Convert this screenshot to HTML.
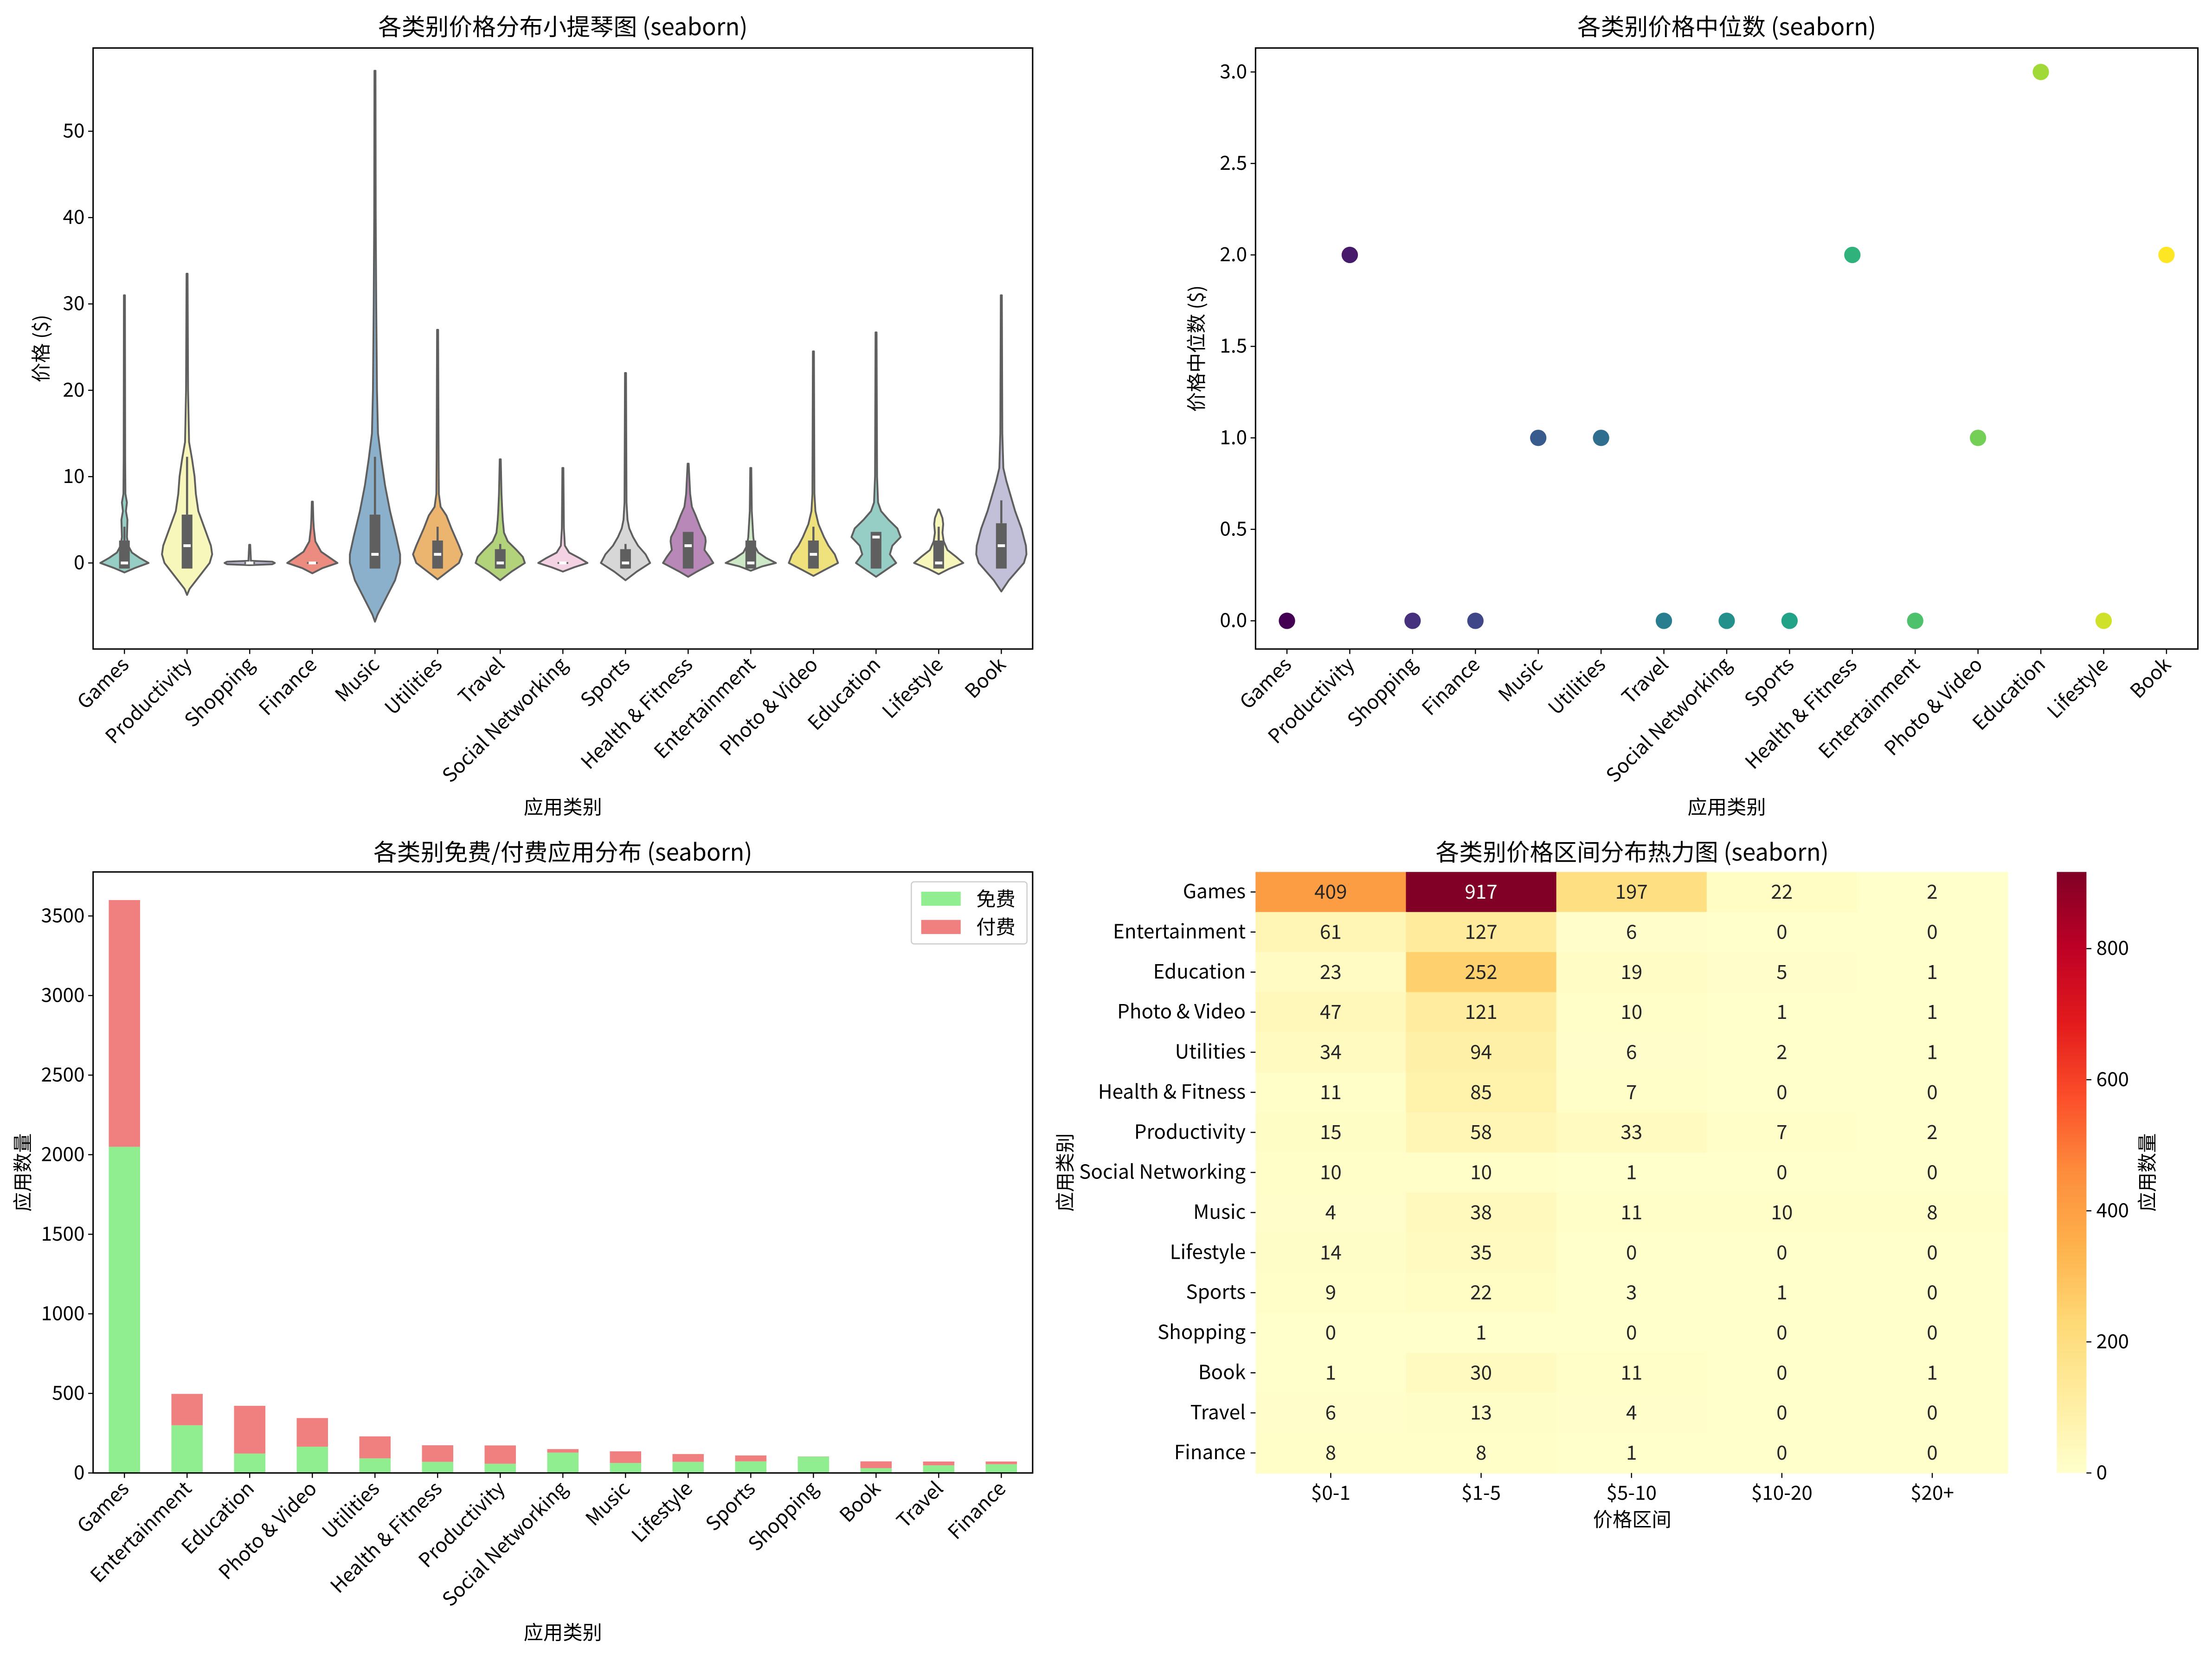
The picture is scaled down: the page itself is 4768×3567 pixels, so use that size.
<!DOCTYPE html>
<html><head><meta charset="utf-8">
<style>
html,body{margin:0;padding:0;background:#fff;}
svg{display:block;}
text{font-family:"WenQuanYi Zen Hei","Noto Sans CJK SC",sans-serif;fill:#000;}
</style></head>
<body>
<svg id="fig" width="4768" height="3567" viewBox="0 0 1568 1173" xmlns="http://www.w3.org/2000/svg">
<rect width="1568" height="1173" fill="#fff"/>
<g id="g1"></g>
<g id="g2"></g>
<g id="g3"></g>
<g id="g4"></g>
</svg>
<script>
// ---------- data ----------
const violinCats = ["Games","Productivity","Shopping","Finance","Music","Utilities","Travel","Social Networking","Sports","Health & Fitness","Entertainment","Photo & Video","Education","Lifestyle","Book"];
const violinColors = ["#96cdc4","#f7f7bb","#bbb8d2","#ec8b7f","#8ab0cc","#ebb56f","#b2d37a","#f5d2e3","#d7d7d7","#b888b9","#cde8c7","#efe27c","#96cdc4","#f7f7bb","#c2bfd8"];
const violinProfiles = [
 [[-1.1,0],[-0.6,0.4],[0,0.96],[0.6,0.6],[1.2,0.3],[2,0.15],[3,0.1],[5,0.12],[6,0.06],[7,0.1],[8,0.04],[12,0.03],[31,0.02]],
 [[-3.7,0],[-3,0.1],[-1.5,0.5],[0,0.9],[1,1.0],[2,0.95],[4,0.7],[6,0.45],[8,0.35],[10,0.3],[12,0.2],[14,0.08],[20,0.04],[33.5,0.02]],
 [[-0.25,0],[-0.15,0.9],[0,1.0],[0.15,0.9],[0.25,0.05],[2.1,0.02]],
 [[-1.2,0],[-0.6,0.4],[0,1.0],[0.6,0.7],[1.3,0.35],[2.5,0.12],[4,0.06],[5,0.04],[7.1,0.02]],
 [[-6.8,0],[-6,0.1],[-4,0.45],[-2,0.8],[0,1.0],[1,1.0],[3,0.85],[6,0.6],[9,0.4],[12,0.25],[15,0.12],[20,0.08],[30,0.05],[40,0.03],[57,0.02]],
 [[-1.9,0],[-1,0.4],[0,0.85],[1,0.98],[2,0.85],[4,0.55],[5.5,0.35],[6.5,0.12],[8,0.05],[12,0.04],[27,0.02]],
 [[-2,0],[-1,0.45],[0,0.98],[0.7,0.9],[1.5,0.65],[2.5,0.3],[3.5,0.15],[5,0.1],[6,0.08],[8,0.05],[12,0.02]],
 [[-1,0],[-0.5,0.45],[0,0.98],[0.5,0.7],[1.2,0.25],[2,0.08],[3,0.06],[4,0.04],[11,0.02]],
 [[-2,0],[-1,0.45],[0,0.98],[1,0.8],[2,0.5],[3,0.3],[4,0.15],[5,0.08],[7,0.04],[22,0.02]],
 [[-1.6,0],[-1,0.35],[0,1.0],[0.7,0.85],[1.5,0.65],[2.5,0.7],[3,0.68],[4,0.5],[5.5,0.3],[6.5,0.15],[8,0.08],[11.5,0.02]],
 [[-0.9,0],[-0.4,0.45],[0,1.0],[0.6,0.6],[1.2,0.3],[2,0.15],[3,0.1],[4,0.08],[6,0.04],[11,0.02]],
 [[-1.5,0],[-0.8,0.45],[0,0.98],[1,0.85],[2,0.6],[3,0.42],[4.5,0.2],[6,0.08],[8,0.04],[24.5,0.02]],
 [[-1.6,0],[-1,0.3],[0,0.8],[1,0.55],[2,0.65],[3,0.98],[4,0.85],[5,0.5],[6,0.2],[7,0.08],[10,0.04],[26.7,0.02]],
 [[-1.3,0],[-0.7,0.4],[0,0.98],[0.7,0.7],[1.5,0.35],[2.5,0.2],[3.5,0.15],[4.5,0.18],[5.2,0.15],[6.2,0.02]],
 [[-3.3,0],[-2,0.3],[0,0.9],[1,1.0],[2,0.98],[4,0.8],[6,0.55],[8,0.35],[9.5,0.2],[11,0.08],[15,0.04],[31,0.02]]
];
const boxLow = [-0.65,-0.65,-0.1,-0.1,-0.65,-0.65,-0.65,-0.1,-0.65,-0.65,-0.65,-0.65,-0.65,-0.65,-0.65];
const boxHigh = [2.6,5.6,0.1,0.1,5.6,2.6,1.6,0.1,1.6,3.6,2.6,2.6,3.6,2.6,4.6];
const whiskerTop = [4.2,12.3,0.1,0.1,12.3,4.2,2.2,0.1,2.2,3.6,2.6,4.2,3.6,4.2,7.25];
const medians = [0,2,0,0,1,1,0,0,0,2,0,1,3,0,2];
const violinTicks = [0,10,20,30,40,50];

const medianCats = violinCats;
const medianValues = [0,2,0,0,1,1,0,0,0,2,0,1,3,0,2];
const medianTicks = [0,0.5,1,1.5,2,2.5,3];
const medianTickLabels = ["0.0","0.5","1.0","1.5","2.0","2.5","3.0"];

const barCats = ["Games","Entertainment","Education","Photo & Video","Utilities","Health & Fitness","Productivity","Social Networking","Music","Lifestyle","Sports","Shopping","Book","Travel","Finance"];
const freeCounts = [2050,300,122,165,92,70,58,128,63,70,73,103,30,48,55];
const paidCounts = [1550,197,300,180,138,104,115,22,73,49,37,1,43,24,17];
const barTicks = [0,500,1000,1500,2000,2500,3000,3500];

const heatRows = ["Games","Entertainment","Education","Photo & Video","Utilities","Health & Fitness","Productivity","Social Networking","Music","Lifestyle","Sports","Shopping","Book","Travel","Finance"];
const heatCols = ["$0-1","$1-5","$5-10","$10-20","$20+"];
const heatValues = [
 [409,917,197,22,2],[61,127,6,0,0],[23,252,19,5,1],[47,121,10,1,1],[34,94,6,2,1],
 [11,85,7,0,0],[15,58,33,7,2],[10,10,1,0,0],[4,38,11,10,8],[14,35,0,0,0],
 [9,22,3,1,0],[0,1,0,0,0],[1,30,11,0,1],[6,13,4,0,0],[8,8,1,0,0]];
const cbarTicks = [0,200,400,600,800];

// ---------- helpers ----------
const NS="http://www.w3.org/2000/svg";
function mk(tag, attrs, parent, txt){
  const e=document.createElementNS(NS,tag);
  for(const k in attrs) e.setAttribute(k,attrs[k]);
  if(txt!==undefined) e.textContent=txt;
  parent.appendChild(e); return e;
}
function hex2rgb(h){return [parseInt(h.substr(1,2),16),parseInt(h.substr(3,2),16),parseInt(h.substr(5,2),16)];}
function interp(stops,t){
  t=Math.max(0,Math.min(1,t)); const n=stops.length-1; const i=Math.min(n-1,Math.floor(t*n)); const f=t*n-i;
  const a=hex2rgb(stops[i]),b=hex2rgb(stops[i+1]);
  return "rgb("+a.map((v,k)=>Math.round(v+(b[k]-v)*f)).join(",")+")";
}
const VIRIDIS=["#440154","#482878","#3e4989","#31688e","#26828e","#1f9e89","#35b779","#6ece58","#b5de2b","#fde725"];
const YLORRD=["#ffffcc","#ffeda0","#fed976","#feb24c","#fd8d3c","#fc4e2a","#e31a1c","#bd0026","#800026"];

function frame(g,x0,y0,x1,y1){
  const r=mk('rect',{x:x0,y:y0,width:x1-x0,height:y1-y0,fill:'none',stroke:'#000','stroke-width':1},g);
  
  
}
function title(g,x,y,s){
  const t=mk('text',{x:x,y:y,'font-size':16.7,'text-anchor':'middle'},g,s);
  
  
}
function xlabel(g,x,y,s){
  const t=mk('text',{x:x,y:y,'font-size':13.9,'text-anchor':'middle'},g,s);
  
  
}
function ylabel(g,x,y,s,name){
  const t=mk('text',{x:x,y:y,'font-size':13.9,'text-anchor':'middle',transform:'rotate(-90 '+x+' '+y+')'},g,s);
  
  
}
function yticks(g,xAxis,ticks,labels,yf){
  ticks.forEach((v,i)=>{
    const y=yf(v);
    mk('line',{x1:xAxis-3.5,x2:xAxis,y1:y,y2:y,stroke:'#000','stroke-width':0.8},g);
    const t=mk('text',{x:xAxis-6,y:y+4.5,'font-size':13.9,'text-anchor':'end'},g,labels[i]);
    
    
  });
}
function xticksRot(g,yAxis,cats,xf){
  cats.forEach((c,i)=>{
    const x=xf(i);
    mk('line',{x1:x,x2:x,y1:yAxis,y2:yAxis+3.5,stroke:'#000','stroke-width':0.8},g);
    const tx=x+4, ty=yAxis+12;
    const t=mk('text',{x:tx,y:ty,'font-size':13.9,'text-anchor':'end',transform:'rotate(-45 '+tx+' '+ty+')'},g,c);
    
    
  });
}

// ---------- chart 1: violins ----------
(function(){
  const g=document.getElementById('g1');
  const X0=66,X1=732,Y0=34,Y1=460;
  const step=(X1-X0)/violinCats.length;
  const xf=i=>X0+step*(i+0.5);
  const yf=v=>399-v*6.12;
  const W=17.8;
  title(g,399,25,"各类别价格分布小提琴图 (seaborn)");
  violinCats.forEach((c,i)=>{
    const cx=xf(i), p=violinProfiles[i];
    const right=p.map(q=>[cx+q[1]*W,yf(q[0])]);
    const left=p.slice().reverse().map(q=>[cx-q[1]*W,yf(q[0])]);
    const pts=right.concat(left).map(q=>q[0].toFixed(2)+","+q[1].toFixed(2)).join(" ");
    const v=mk('polygon',{points:pts,fill:violinColors[i],stroke:'#5f5f5f','stroke-width':1.3,'stroke-linejoin':'round'},g);
    
    
    mk('line',{x1:cx,x2:cx,y1:yf(boxHigh[i]),y2:yf(whiskerTop[i]),stroke:'#5f5f5f','stroke-width':1.5},g);
    const b=mk('rect',{x:cx-3.8,y:yf(boxHigh[i]),width:7.6,height:yf(boxLow[i])-yf(boxHigh[i]),fill:'#5f5f5f'},g);
    
    
    const m=mk('rect',{x:cx-2.6,y:yf(medians[i])-1,width:5.2,height:2,fill:'#fff'},g);
    
    
  });
  frame(g,X0,Y0,X1,Y1);
  yticks(g,X0,violinTicks,violinTicks.map(String),yf);
  xticksRot(g,Y1,violinCats,xf);
  xlabel(g,399,577,"应用类别");
  ylabel(g,34,247,"价格 ($)");
})();

// ---------- chart 2: medians ----------
(function(){
  const g=document.getElementById('g2');
  const X0=890,X1=1558,Y0=34,Y1=460;
  const step=(X1-X0)/medianCats.length;
  const xf=i=>X0+step*(i+0.5);
  const yf=v=>440-v*129.67;
  title(g,1224,25,"各类别价格中位数 (seaborn)");
  frame(g,X0,Y0,X1,Y1);
  medianValues.forEach((v,i)=>{
    const c=mk('circle',{cx:xf(i),cy:yf(v),r:5.8,fill:interp(VIRIDIS,i/(medianCats.length-1))},g);
    
    
  });
  yticks(g,X0,medianTicks,medianTickLabels,yf);
  xticksRot(g,Y1,medianCats,xf);
  xlabel(g,1224,577,"应用类别");
  ylabel(g,853,247,"价格中位数 ($)");
})();

// ---------- chart 3: stacked bars ----------
(function(){
  const g=document.getElementById('g3');
  const X0=66,X1=732,Y0=618,Y1=1044;
  const step=(X1-X0)/barCats.length;
  const xf=i=>X0+step*(i+0.5);
  const yf=v=>1044-v*0.1128;
  title(g,399,610,"各类别免费/付费应用分布 (seaborn)");
  barCats.forEach((c,i)=>{
    const bw=step*0.5, x=xf(i)-bw/2;
    const f=mk('rect',{x:x,y:yf(freeCounts[i]),width:bw,height:yf(0)-yf(freeCounts[i]),fill:'#90ee90'},g);
    
    
    const tot=freeCounts[i]+paidCounts[i];
    const p=mk('rect',{x:x,y:yf(tot),width:bw,height:yf(freeCounts[i])-yf(tot),fill:'#f08080'},g);
    
    
  });
  frame(g,X0,Y0,X1,Y1);
  yticks(g,X0,barTicks,barTicks.map(String),yf);
  xticksRot(g,Y1,barCats,xf);
  xlabel(g,399,1162,"应用类别");
  ylabel(g,21,831,"应用数量");
  const lg=mk('g',{},g);
  
  
  mk('rect',{x:646,y:625,width:82,height:44,rx:2,fill:'#fff',stroke:'#ccc','stroke-width':0.8},lg);
  mk('rect',{x:653,y:632,width:28,height:10,fill:'#90ee90'},lg);
  mk('rect',{x:653,y:652,width:28,height:10,fill:'#f08080'},lg);
  const t1=mk('text',{x:692,y:642,'font-size':13.9},lg,"免费");
  
  
  const t2=mk('text',{x:692,y:662,'font-size':13.9},lg,"付费");
  
  
})();

// ---------- chart 4: heatmap ----------
(function(){
  const g=document.getElementById('g4');
  const X0=890,X1=1423,Y0=618,Y1=1044;
  const cw=(X1-X0)/heatCols.length, rh=(Y1-Y0)/heatRows.length;
  const vmax=917;
  title(g,1157,610,"各类别价格区间分布热力图 (seaborn)");
  heatRows.forEach((r,i)=>{
    heatCols.forEach((c,j)=>{
      const v=heatValues[i][j];
      const cell=mk('rect',{x:X0+j*cw,y:Y0+i*rh,width:cw+0.5,height:rh+0.5,fill:interp(YLORRD,v/vmax)},g);
      
      
      const t=mk('text',{x:X0+(j+0.5)*cw,y:Y0+(i+0.5)*rh+4.8,'font-size':13.9,'text-anchor':'middle',style:'fill:'+(v>600?'#fff':'#262626')},g,String(v));
      
      
    });
    const y=Y0+(i+0.5)*rh;
    mk('line',{x1:X0-3.5,x2:X0,y1:y,y2:y,stroke:'#000','stroke-width':0.8},g);
    const t=mk('text',{x:X0-7,y:y+4.5,'font-size':13.9,'text-anchor':'end'},g,r);
    
    
  });
  heatCols.forEach((c,j)=>{
    const x=X0+(j+0.5)*cw;
    mk('line',{x1:x,x2:x,y1:Y1,y2:Y1+3.5,stroke:'#000','stroke-width':0.8},g);
    const t=mk('text',{x:x,y:Y1+19,'font-size':13.9,'text-anchor':'middle'},g,c);
    
    
  });
  xlabel(g,1157,1082,"价格区间");
  ylabel(g,760,831,"应用类别");
  const defs=mk('defs',{},g);
  const lgd=mk('linearGradient',{id:'cb',x1:0,y1:1,x2:0,y2:0},defs);
  YLORRD.forEach((c,k)=>mk('stop',{offset:(k/(YLORRD.length-1)),'stop-color':c},lgd));
  const CX0=1458,CX1=1479;
  const cb=mk('rect',{x:CX0,y:Y0,width:CX1-CX0,height:Y1-Y0,fill:'url(#cb)'},g);
  
  
  const cyf=v=>Y1-v/vmax*(Y1-Y0);
  cbarTicks.forEach(v=>{
    const y=cyf(v);
    mk('line',{x1:CX1,x2:CX1+3.5,y1:y,y2:y,stroke:'#000','stroke-width':0.8},g);
    const t=mk('text',{x:CX1+7,y:y+4.5,'font-size':13.9},g,String(v));
    
    
  });
  ylabel(g,1527,831,"应用数量","colorbar-title");
})();
</script>
</body></html>
